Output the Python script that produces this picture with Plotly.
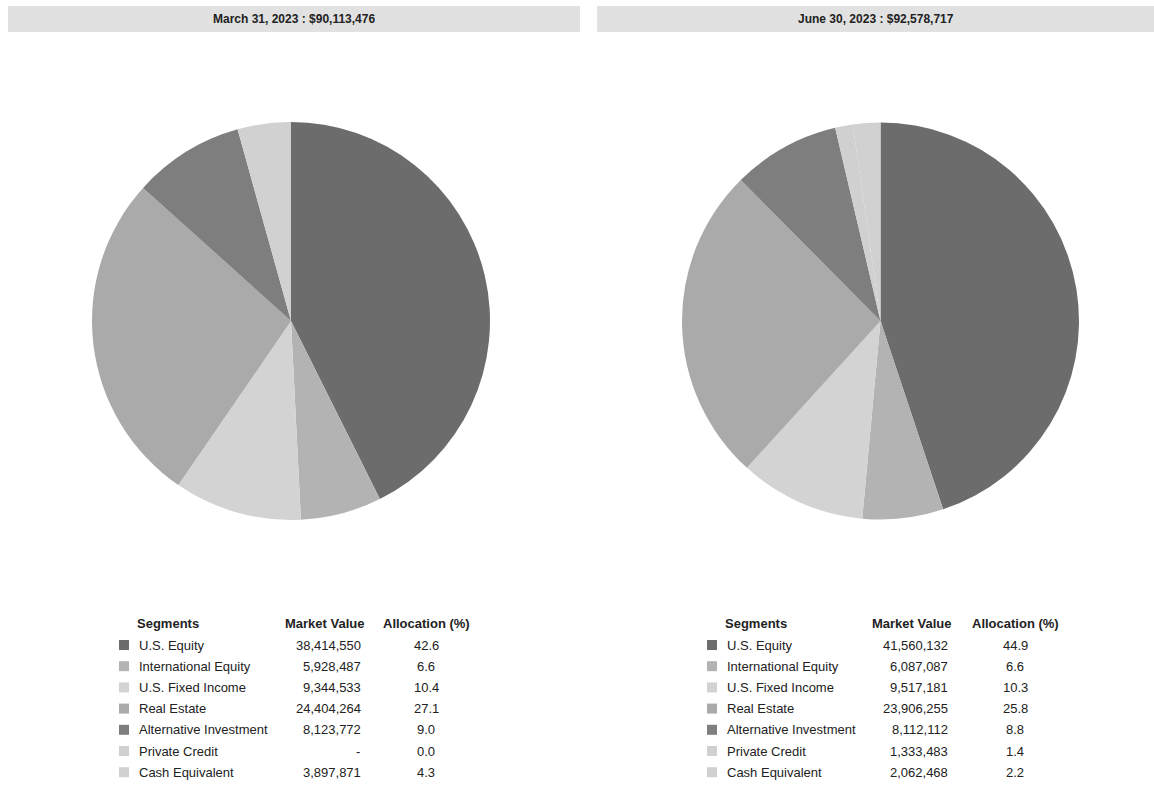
import plotly.graph_objects as go

segments = ["U.S. Equity", "International Equity", "U.S. Fixed Income", "Real Estate",
            "Alternative Investment", "Private Credit", "Cash Equivalent"]
colors = ["#6c6c6c", "#b3b3b3", "#d3d3d3", "#aaaaaa", "#7e7e7e", "#d0d0d0", "#d1d1d1"]

titles = ["March 31, 2023 : $90,113,476", "June 30, 2023 : $92,578,717"]
mv_q1 = [38414550, 5928487, 9344533, 24404264, 8123772, 0, 3897871]
mv_q2 = [41560132, 6087087, 9517181, 23906255, 8112112, 1333483, 2062468]
alloc_q1 = [42.6, 6.6, 10.4, 27.1, 9.0, 0.0, 4.3]
alloc_q2 = [44.9, 6.6, 10.3, 25.8, 8.8, 1.4, 2.2]

W, H = 1154, 785
FONT = "Liberation Sans, Arial, sans-serif"
TXT = "#222222"
FS = 13

def px(x):
    return x / W

def py(y):
    return 1 - y / H

fig = go.Figure()

panels = [
    dict(values=mv_q1, alloc=alloc_q1, title=titles[0], bar=(8, 580), pie=(92, 490),
         sq=119, name=137, mv_right=363, al_c=426),
    dict(values=mv_q2, alloc=alloc_q2, title=titles[1], bar=(597, 1154), pie=(682, 1079),
         sq=707, name=725, mv_right=950, al_c=1015),
]

shapes = []
annotations = []
for p in panels:
    fig.add_trace(go.Pie(
        labels=segments, values=p["values"], sort=False, direction="clockwise", rotation=0,
        marker=dict(colors=colors, line=dict(width=0)),
        textinfo="none", hoverinfo="label+value+percent", showlegend=False,
        domain=dict(x=[px(p["pie"][0]), px(p["pie"][1])], y=[py(521), py(121)]),
    ))
    # header bar
    shapes.append(dict(type="rect", xref="paper", yref="paper",
                       x0=px(p["bar"][0]), x1=px(p["bar"][1]), y0=py(32), y1=py(6),
                       fillcolor="#e1e1e1", line=dict(width=0), layer="below"))
    annotations.append(dict(text="<b>" + p["title"] + "</b>", xref="paper", yref="paper",
                            x=px((p["bar"][0] + p["bar"][1]) / 2), y=py(19),
                            xanchor="center", yanchor="middle", showarrow=False,
                            font=dict(family=FONT, size=12, color=TXT)))
    # table headers
    hy = 623
    annotations.append(dict(text="<b>Segments</b>", xref="paper", yref="paper",
                            x=px(p["name"] - 2), y=py(hy), xanchor="left", yanchor="middle",
                            showarrow=False, font=dict(family=FONT, size=FS, color=TXT)))
    annotations.append(dict(text="<b>Market Value</b>", xref="paper", yref="paper",
                            x=px(p["mv_right"] + 4), y=py(hy), xanchor="right", yanchor="middle",
                            showarrow=False, font=dict(family=FONT, size=FS, color=TXT)))
    annotations.append(dict(text="<b>Allocation (%)</b>", xref="paper", yref="paper",
                            x=px(p["al_c"]), y=py(hy), xanchor="center", yanchor="middle",
                            showarrow=False, font=dict(family=FONT, size=FS, color=TXT)))
    for i, seg in enumerate(segments):
        ry = 645 + i * 21.2
        shapes.append(dict(type="rect", xref="paper", yref="paper",
                           x0=px(p["sq"]), x1=px(p["sq"] + 10), y0=py(ry + 5), y1=py(ry - 5),
                           fillcolor=colors[i], line=dict(width=0)))
        annotations.append(dict(text=seg, xref="paper", yref="paper",
                                x=px(p["name"]), y=py(ry), xanchor="left", yanchor="middle",
                                showarrow=False, font=dict(family=FONT, size=FS, color=TXT)))
        v = p["values"][i]
        vtxt = f"{v:,}" if v else "-"
        annotations.append(dict(text=vtxt, xref="paper", yref="paper",
                                x=px(p["mv_right"] if v else p["mv_right"] - 1), y=py(ry),
                                xanchor="right", yanchor="middle",
                                showarrow=False, font=dict(family=FONT, size=FS, color=TXT)))
        annotations.append(dict(text=f"{p['alloc'][i]:.1f}", xref="paper", yref="paper",
                                x=px(p["al_c"]), y=py(ry), xanchor="center", yanchor="middle",
                                showarrow=False, font=dict(family=FONT, size=FS, color=TXT)))

fig.update_layout(width=W, height=H, margin=dict(l=0, r=0, t=0, b=0),
                  paper_bgcolor="white", plot_bgcolor="white",
                  shapes=shapes, annotations=annotations)
fig.write_html("out.html")
